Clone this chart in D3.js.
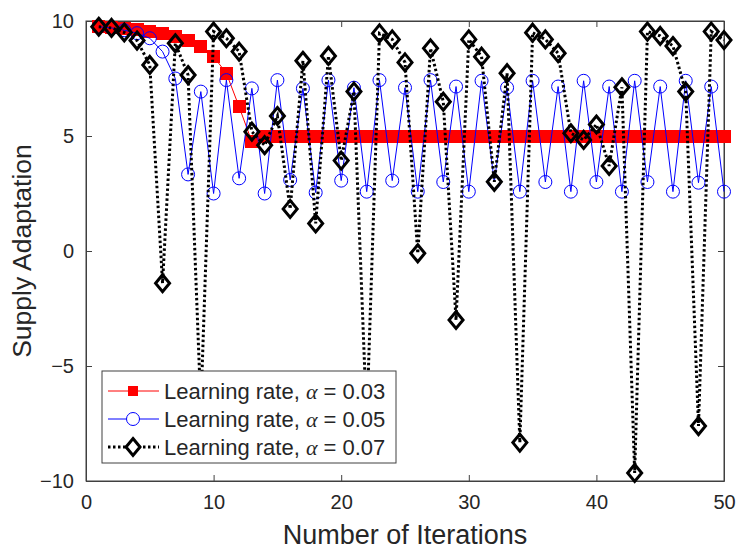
<!DOCTYPE html>
<html>
<head>
<meta charset="utf-8">
<script src="https://cdn.jsdelivr.net/npm/d3@7"></script>
<style>
  body { margin: 0; background: #fff; }
  text { font-family: Arial, "Liberation Sans", sans-serif; fill: #262626; }
</style>
</head>
<body>
<svg id="chart" width="737" height="550"></svg>
<script>
// iteration numbers
var iterations = [1, 2, 3, 4, 5, 6, 7, 8, 9, 10, 11, 12, 13, 14, 15, 16, 17, 18, 19, 20,
  21, 22, 23, 24, 25, 26, 27, 28, 29, 30, 31, 32, 33, 34, 35, 36, 37, 38, 39, 40,
  41, 42, 43, 44, 45, 46, 47, 48, 49, 50];

// learning rate 0.03
var rate003 = [9.75, 9.72, 9.67, 9.62, 9.55, 9.47, 9.32, 9.17, 8.88, 8.45,
  7.73, 6.27, 4.75, 4.97, 5.0, 5.0, 5.0, 5.0, 5.0, 5.0,
  5.0, 5.0, 5.0, 5.0, 5.0, 5.0, 5.0, 5.0, 5.0, 5.0,
  5.0, 5.0, 5.0, 5.0, 5.0, 5.0, 5.0, 5.0, 5.0, 5.0,
  5.0, 5.0, 5.0, 5.0, 5.0, 5.0, 5.0, 5.0, 5.0, 5.0];

// learning rate 0.05
var rate005 = [9.75, 9.7, 9.6, 9.47, 9.25, 8.67, 7.5, 3.33, 6.93, 2.5,
  7.43, 3.16, 7.07, 2.5, 7.43, 3.09, 7.07, 2.54, 7.43, 3.06,
  7.1, 2.58, 7.43, 3.06, 7.1, 2.58, 7.43, 3.0, 7.15, 2.58,
  7.4, 3.0, 7.1, 2.58, 7.4, 3.0, 7.15, 2.58, 7.4, 3.0,
  7.15, 2.58, 7.4, 3.0, 7.15, 2.58, 7.4, 2.97, 7.15, 2.58];

// learning rate 0.07
var rate007 = [9.75, 9.7, 9.5, 9.15, 8.09, -1.4, 9.03, 7.65, -6.8, 9.54,
  9.25, 8.67, 5.19, 4.6, 5.87, 1.83, 8.27, 1.2, 8.48, 3.93,
  6.93, -7.4, 9.46, 9.2, 8.2, -0.1, 8.81, 6.49, -3.0, 9.2,
  8.45, 3.01, 7.73, -8.33, 9.49, 9.2, 8.6, 5.12, 4.83, 5.5,
  3.7, 7.12, -9.65, 9.54, 9.35, 8.91, 6.93, -7.61, 9.54, 9.17];

var xTicks = [0, 10, 20, 30, 40, 50];
var yTicks = [-10, -5, 0, 5, 10];
var legendRates = ["0.03", "0.05", "0.07"];

var svg = d3.select("#chart"),
    margin = {top: 21, right: 13, bottom: 69, left: 86},
    width = +svg.attr("width") - margin.left - margin.right,
    height = +svg.attr("height") - margin.top - margin.bottom;

var x = d3.scaleLinear().domain([0, 50]).range([0, width]);
var y = d3.scaleLinear().domain([-10, 10]).range([height, 0]);

var g = svg.append("g")
    .attr("transform", "translate(" + margin.left + "," + margin.top + ")");

var axisColor = "#404040";

// axes with inward ticks on all four sides
g.append("g")
    .attr("transform", "translate(0," + height + ")")
    .call(d3.axisBottom(x).tickValues(xTicks).tickSizeInner(-6).tickSizeOuter(0).tickPadding(14));
g.append("g")
    .call(d3.axisLeft(y).tickValues(yTicks).tickSizeInner(-6).tickSizeOuter(0).tickPadding(12));
g.append("g")
    .call(d3.axisTop(x).tickValues(xTicks).tickSizeInner(-6).tickSizeOuter(0).tickFormat(""));
g.append("g")
    .attr("transform", "translate(" + width + ",0)")
    .call(d3.axisRight(y).tickValues(yTicks).tickSizeInner(-6).tickSizeOuter(0).tickFormat(""));

g.selectAll(".domain").attr("stroke", axisColor);
g.selectAll(".tick line").attr("stroke", axisColor);
g.selectAll(".tick text")
    .style("font-size", "20px")
    .attr("fill", "#262626");

g.append("rect")
    .attr("width", width)
    .attr("height", height)
    .attr("fill", "none")
    .attr("stroke", axisColor);

// axis titles
svg.append("text")
    .attr("x", margin.left + width / 2)
    .attr("y", 544)
    .attr("text-anchor", "middle")
    .style("font-size", "27px")
    .text("Number of Iterations");

svg.append("text")
    .attr("transform", "translate(31," + (margin.top + height / 2) + ") rotate(-90)")
    .attr("text-anchor", "middle")
    .style("font-size", "26.5px")
    .text("Supply Adaptation");

var line = d3.line()
    .x(function (d, i) { return x(iterations[i]); })
    .y(function (d) { return y(d); });

var diamond = "M0,-8.5L7,0L0,8.5L-7,0Z";
var sq = 13;

// rate 0.03 : red, filled squares
g.append("path")
    .datum(rate003)
    .attr("d", line)
    .attr("fill", "none")
    .attr("stroke", "#ff0000")
    .attr("stroke-width", 1);
g.selectAll(".sq")
    .data(rate003)
    .enter().append("rect")
    .attr("class", "sq")
    .attr("x", function (d, i) { return x(iterations[i]) - sq / 2; })
    .attr("y", function (d) { return y(d) - sq / 2; })
    .attr("width", sq)
    .attr("height", sq)
    .attr("shape-rendering", "crispEdges")
    .attr("fill", "#ff0000");

// rate 0.05 : blue, open circles
g.append("path")
    .datum(rate005)
    .attr("d", line)
    .attr("fill", "none")
    .attr("stroke", "#0000ff")
    .attr("stroke-width", 1);
g.selectAll(".ci")
    .data(rate005)
    .enter().append("circle")
    .attr("class", "ci")
    .attr("cx", function (d, i) { return x(iterations[i]); })
    .attr("cy", function (d) { return y(d); })
    .attr("r", 6.5)
    .attr("fill", "none")
    .attr("stroke", "#0000ff")
    .attr("stroke-width", 1);

// rate 0.07 : black dotted, diamonds
g.append("path")
    .datum(rate007)
    .attr("d", line)
    .attr("fill", "none")
    .attr("stroke", "#000")
    .attr("stroke-width", 3)
    .attr("stroke-dasharray", "2.5,2.5");
g.selectAll(".di")
    .data(rate007)
    .enter().append("path")
    .attr("class", "di")
    .attr("transform", function (d, i) { return "translate(" + x(iterations[i]) + "," + y(d) + ")"; })
    .attr("d", diamond)
    .attr("fill", "none")
    .attr("stroke", "#000")
    .attr("stroke-width", 3);

// legend
var legend = svg.append("g").attr("transform", "translate(102,371)");
legend.append("rect")
    .attr("width", 294)
    .attr("height", 92)
    .attr("fill", "#fff")
    .attr("stroke", axisColor);

var rowY = [20, 48, 76];
var rows = legend.selectAll(".row")
    .data(legendRates)
    .enter().append("g")
    .attr("transform", function (d, i) { return "translate(0," + rowY[i] + ")"; });

rows.append("line")
    .attr("x1", 6).attr("x2", 57)
    .attr("stroke", function (d, i) { return ["#ff0000", "#0000ff", "#000"][i]; })
    .attr("stroke-width", function (d, i) { return i == 2 ? 3 : 1; })
    .attr("stroke-dasharray", function (d, i) { return i == 2 ? "2.5,2.5" : null; });

rows.filter(function (d, i) { return i == 0; }).append("rect")
    .attr("x", 26).attr("y", -5).attr("width", 10).attr("height", 10)
    .attr("fill", "#ff0000");
rows.filter(function (d, i) { return i == 1; }).append("circle")
    .attr("cx", 31).attr("r", 6.5)
    .attr("fill", "#fff").attr("stroke", "#0000ff");
rows.filter(function (d, i) { return i == 2; }).append("path")
    .attr("transform", "translate(31,0)")
    .attr("d", diamond)
    .attr("fill", "#fff").attr("stroke", "#000").attr("stroke-width", 3);

var label = rows.append("text")
    .attr("x", 62)
    .attr("dy", "0.36em")
    .style("font-size", "22px");
label.append("tspan").text("Learning rate, ");
label.append("tspan")
    .style("font-family", "'Liberation Serif', 'DejaVu Serif', serif")
    .style("font-style", "italic")
    .text("α");
label.append("tspan").text(function (d) { return " = " + d; });
</script>
</body>
</html>
